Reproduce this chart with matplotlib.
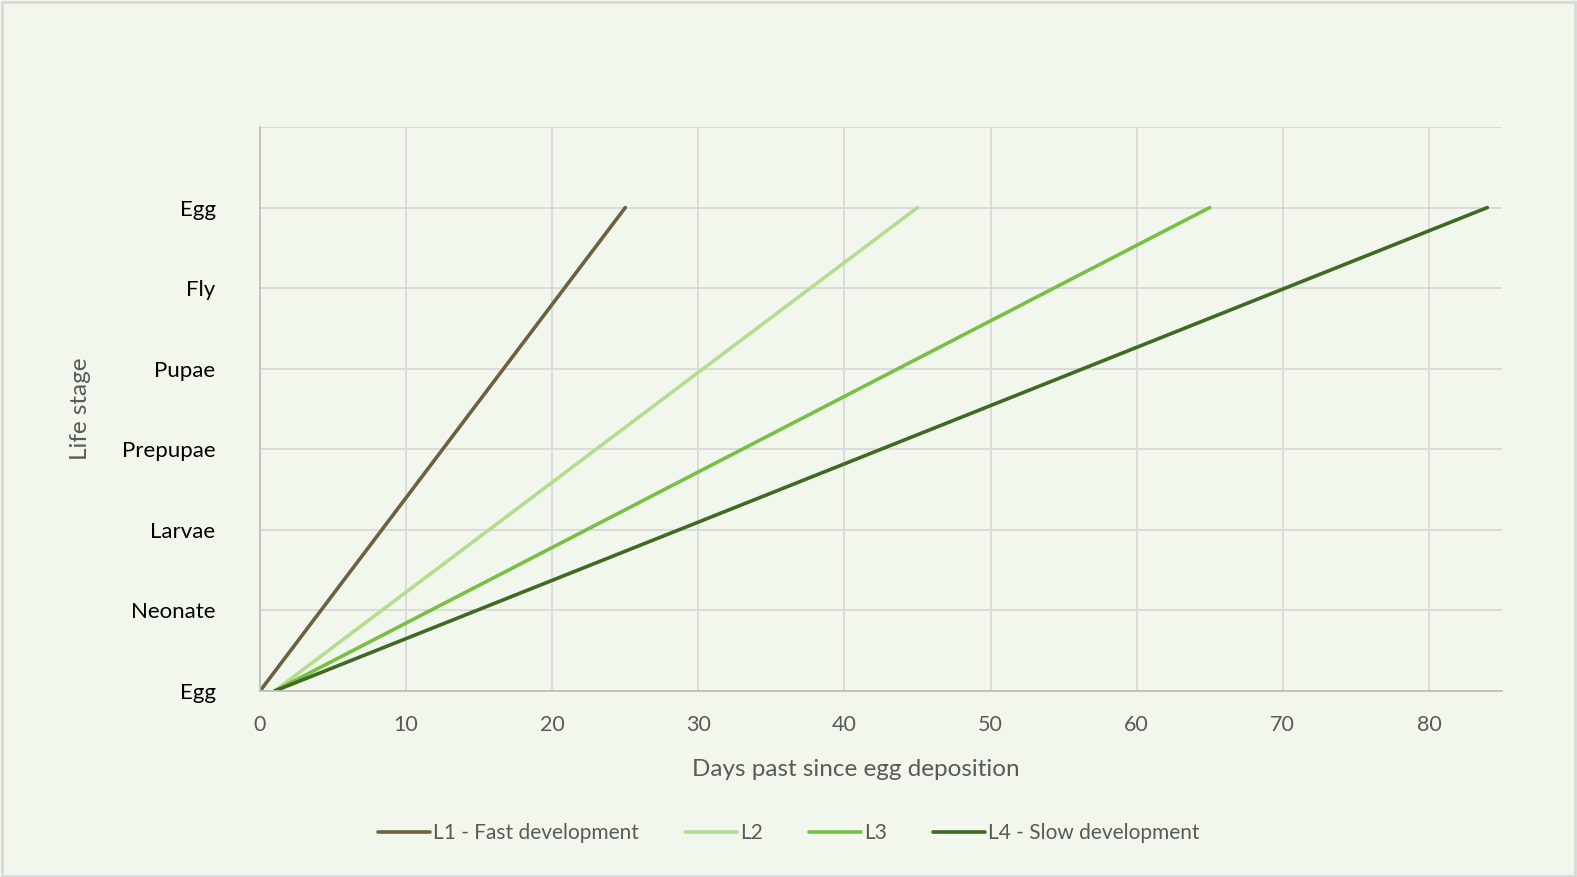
import matplotlib.pyplot as plt
import matplotlib

matplotlib.rcParams['font.family'] = ['Lato', 'DejaVu Sans']
matplotlib.rcParams['font.size'] = 15

# 데이터
stages = ['Egg', 'Neonate', 'Larvae', 'Prepupae', 'Pupae', 'Fly', 'Egg']
series = ['L1 - Fast development', 'L2', 'L3', 'L4 - Slow development']
start_day = [0, 1, 1, 1]
end_day = [25, 45, 65, 84]
start_stage = [0, 0, 0, 0]
end_stage = [6, 6, 6, 6]
colors = ['#6E6140', '#B6DC90', '#78C044', '#3F6A22']

bg = '#F2F7EE'
fig = plt.figure(figsize=(15.77, 8.77), dpi=100, facecolor=bg)
ax = fig.add_axes([0.1649, 0.2121, 0.9524 - 0.1649, 0.8552 - 0.2121])
ax.set_facecolor(bg)

for i in range(len(series)):
    ax.plot([start_day[i], end_day[i]], [start_stage[i], end_stage[i]],
            color=colors[i], linewidth=2.6, solid_capstyle='round', label=series[i])

ax.set_xlim(0, 85)
ax.set_ylim(0, 7)
ax.set_xticks(range(0, 90, 10))
ax.set_yticks(range(0, 8))
ax.set_yticklabels(stages + [''])
ax.grid(color='#D9D9D9', linewidth=1.3)
ax.set_axisbelow(True)
for s in ['top', 'right']:
    ax.spines[s].set_visible(False)
ax.spines['left'].set_color('#BFBFBF')
ax.spines['bottom'].set_color('#BFBFBF')
ax.spines['left'].set_linewidth(1.3)
ax.spines['bottom'].set_linewidth(1.3)
ax.tick_params(length=0)
ax.tick_params(axis='x', colors='#595959', pad=17, labelsize=15.5)
ax.tick_params(axis='y', colors='black', pad=32, labelsize=16)

ax.set_xlabel('Days past since egg deposition', color='#595959', fontsize=17.5)
ax.set_ylabel('Life stage', color='#595959', fontsize=17.5)
ax.xaxis.set_label_coords(0.48, -0.12)
ax.yaxis.set_label_coords(-0.136, 0.5)

fig.legend(loc='center', bbox_to_anchor=(0.5, 1 - 833 / 877), ncol=4, frameon=False,
           fontsize=15, handlelength=2.5, handletextpad=0.15, columnspacing=2.2,
           labelcolor='#595959')

# 테두리
fig.patches.append(plt.Rectangle((0.001, 0.001), 0.998, 0.997, transform=fig.transFigure,
                                 fill=False, edgecolor='#D9D9D9', linewidth=2))

plt.savefig('out.png', dpi=100, facecolor=bg)
